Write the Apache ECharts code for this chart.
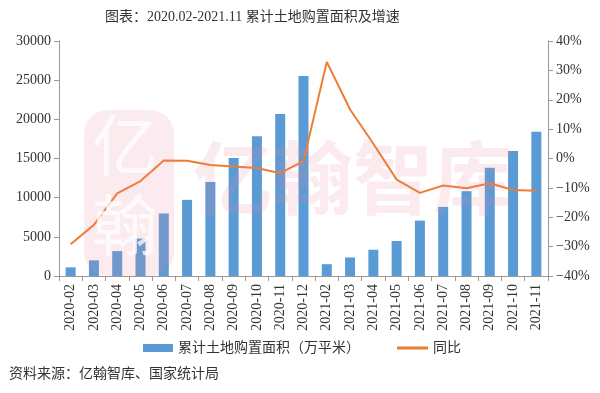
<!DOCTYPE html>
<html><head><meta charset="utf-8">
<script src="https://cdn.jsdelivr.net/npm/echarts@6/dist/echarts.min.js"></script>
<style>html,body{margin:0;padding:0;background:#fff}#c{width:600px;height:393px}</style>
</head><body><div id="c"></div>
<script>
var categories = ['2020-02','2020-03','2020-04','2020-05','2020-06','2020-07','2020-08','2020-09','2020-10','2020-11','2020-12','2021-02','2021-03','2021-04','2021-05','2021-06','2021-07','2021-08','2021-09','2021-10','2021-11'];
var areaValues = [1104,2000,3180,4780,7980,9720,12000,15060,17830,20680,25536,1510,2370,3350,4470,7070,8820,10830,13830,15960,18400];
var yoyValues = [-29.2,-22.6,-11.9,-7.7,-0.7,-0.8,-2.2,-2.7,-3.2,-5.0,-0.9,32.9,16.7,5.0,-7.2,-11.7,-9.2,-10.1,-8.4,-10.7,-11.0];
var seriesNames = ['累计土地购置面积（万平米）','同比'];
var titleText = '图表：2020.02-2021.11 累计土地购置面积及增速';
var sourceText = '资料来源：亿翰智库、国家统计局';

var mixed = 'Liberation Serif, Noto Sans CJK SC, serif';
var chart = echarts.init(document.getElementById('c'));
chart.setOption({
  animation: false,
  backgroundColor: '#fff',
  title: {text: titleText, left: 100, top: 5, textStyle: {fontFamily: mixed, fontSize: 14, fontWeight: 'normal', color: '#333'}},
  grid: {left: 59, right: 52, top: 41, bottom: 117},
  legend: [
    {left: 138, top: 336, itemWidth: 30, itemHeight: 8, itemGap: 6,
     textStyle: {fontFamily: mixed, fontSize: 14, color: '#333'},
     data: [{name: seriesNames[0], icon: 'rect'}]},
    {left: 392, top: 336, itemWidth: 31, itemHeight: 3, itemGap: 6,
     textStyle: {fontFamily: mixed, fontSize: 14, color: '#333'},
     data: [{name: seriesNames[1], icon: 'rect'}]}
  ],
  graphic: [
    {type: 'text', left: 9, top: 366, style: {text: sourceText, font: '14px "Noto Sans CJK SC"', fill: '#333'}},
    {type: 'rect', left: 84, top: 110, shape: {width: 90, height: 166, r: 24}, style: {fill: 'rgba(236,130,150,0.16)'}, z: 100},
    {type: 'text', left: 92, top: 112, style: {text: '亿', font: '66px "Noto Sans CJK SC"', fill: 'rgba(255,255,255,0.75)'}, z: 101},
    {type: 'text', left: 92, top: 192, style: {text: '翰', font: '66px "Noto Sans CJK SC"', fill: 'rgba(255,255,255,0.75)'}, z: 101},
    {type: 'text', left: 193, top: 138, style: {text: '亿翰智库', font: 'bold 80px "Noto Sans CJK SC"', fill: 'rgba(236,130,150,0.16)'}, z: 100}
  ],
  xAxis: {
    type: 'category', data: categories,
    axisLine: {lineStyle: {color: '#999'}},
    axisTick: {show: true, alignWithLabel: false, lineStyle: {color: '#999'}},
    axisLabel: {rotate: 90, interval: 0, fontFamily: 'Liberation Serif', fontSize: 14, color: '#333', margin: 8}
  },
  yAxis: [
    {type: 'value', min: 0, max: 30000, interval: 5000,
     axisLine: {show: true, lineStyle: {color: '#999'}}, axisTick: {show: true, lineStyle: {color: '#999'}},
     splitLine: {show: false}, axisLabel: {fontFamily: 'Liberation Serif', fontSize: 14, color: '#333', formatter: function (v) { return String(v); }}},
    {type: 'value', min: -40, max: 40, interval: 10,
     axisLine: {show: true, lineStyle: {color: '#999'}}, axisTick: {show: true, lineStyle: {color: '#999'}},
     splitLine: {show: false}, axisLabel: {fontFamily: 'Liberation Serif', fontSize: 14, color: '#333', formatter: function (v) { return (v < 0 ? '\u2212' + (-v) : v) + '%'; }}}
  ],
  series: [
    {name: seriesNames[0], type: 'bar', data: areaValues, barWidth: 10, itemStyle: {color: '#5B9BD5'}},
    {name: seriesNames[1], type: 'line', yAxisIndex: 1, data: yoyValues, symbol: 'none', lineStyle: {color: '#ED7D31', width: 2}, itemStyle: {color: '#ED7D31'}}
  ]
});
</script></body></html>
